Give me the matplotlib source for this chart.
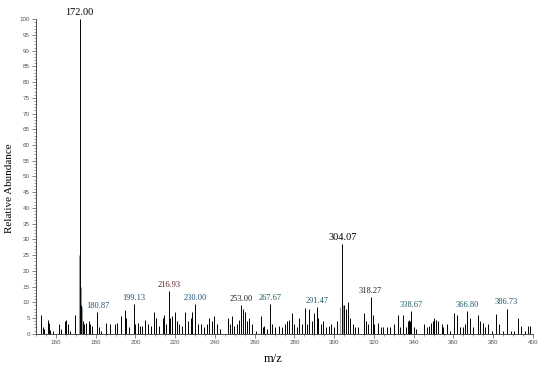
import numpy as np
import matplotlib
matplotlib.use('Agg')
import matplotlib.pyplot as plt
from matplotlib.ticker import MultipleLocator

# stick spectrum (m/z, relative abundance)
mz = [152.3, 153.6, 154.2, 155.8, 156.5, 157.0, 158.5, 161.7, 162.7, 164.5,
      165.3, 166.2, 167.0, 169.7, 172.0, 172.8, 173.5, 174.3, 175.0, 176.4,
      177.2, 178.3, 180.87, 181.6, 182.5, 185.2, 187.0, 189.5, 190.8, 192.5,
      194.7, 195.5, 197.0, 199.13, 200.0, 201.2, 202.2, 203.3, 205.0, 206.3,
      207.7, 209.3, 210.6, 211.9, 213.9, 214.6, 215.6, 216.93, 217.6, 218.6,
      219.8, 220.7, 221.7, 223.3, 225.0, 226.6, 227.8, 228.6, 230.0, 231.5,
      232.8, 234.5, 235.8, 237.2, 238.4, 239.7, 240.8, 242.5, 246.4, 247.6,
      248.8, 249.8, 251.0, 252.1, 253.0, 253.9, 255.0, 256.0, 257.2, 258.4,
      260.5, 263.0, 264.0, 264.8, 266.3, 267.67, 268.8, 270.3, 272.0, 273.6,
      275.3, 276.1, 277.4, 278.6, 279.8, 281.1, 282.5, 283.8, 285.3, 286.4,
      287.5, 288.7, 289.8, 291.47, 292.0, 293.2, 294.5, 295.9, 297.4, 298.5,
      299.9, 301.5, 304.07, 305.0, 306.0, 307.0, 307.9, 309.2, 310.4, 312.0,
      314.9, 316.2, 317.2, 318.27, 319.3, 320.2, 322.2, 323.4, 324.4, 326.4,
      328.1, 330.2, 331.9, 333.1, 334.4, 336.0, 336.9, 337.7, 338.2, 338.67,
      339.9, 341.2, 345.2, 346.5, 347.9, 348.7, 349.5, 350.2, 351.2, 352.3,
      354.0, 354.8, 356.8, 358.2, 360.3, 362.0, 363.3, 365.0, 366.0, 366.80,
      368.2, 369.9, 372.2, 373.4, 374.7, 375.9, 377.2, 379.2, 381.4, 383.1,
      384.8, 386.73, 388.7, 390.3, 392.3, 394.0, 396.0, 397.4, 398.5]
abund = [6, 2, 1.5, 4.5, 3.5, 1.2, 1, 3, 1.5, 4,
         4.5, 3, 1, 6, 100, 9, 4, 3, 3.5, 4,
         3, 2.5, 7, 2, 1, 3.5, 3, 3, 3.5, 5.5,
         7.5, 5, 2, 9.5, 3, 3.5, 2.5, 2.5, 4.5, 3,
         2.5, 7, 5, 2.5, 5, 6, 3, 13.5, 5, 5.5,
         7, 4, 3, 2.5, 7, 4, 5, 7, 9.5, 3,
         3, 2, 3, 5, 4, 5.5, 3, 1.5, 5, 3,
         5.5, 2.5, 3, 4.5, 9, 8, 7, 4, 5, 3,
         1, 5.5, 2, 2.5, 1.5, 9.3, 3, 2, 2.5, 2,
         3, 4, 4.5, 6.5, 3, 2, 5, 3, 8.2, 3,
         8, 4, 6.5, 8.5, 5, 3, 4, 2, 2.5, 3,
         2, 4, 28.5, 9, 8, 10, 5, 3, 2, 2,
         6.5, 4, 3, 11.7, 6, 3, 3.5, 2, 2, 2,
         2, 3, 6, 2, 6, 2, 4, 4.5, 4, 7.2,
         2, 1.5, 3, 2, 2.5, 3.5, 4, 5, 4.5, 4,
         3, 2, 3, 1, 6.7, 6, 2, 2, 3, 7.2,
         5, 2, 6, 4, 3.5, 2, 3, 1, 6.2, 3,
         1, 8, 1, 1, 5, 2.5, 1, 2.5, 2.5]

# lighter (grey) sticks next to the main peaks
grey_mz = [171.5, 172.4, 173.1, 302.9, 304.5]
grey_abund = [25, 15, 8.5, 8.5, 9]

# labelled peaks
label_mz = [172.00, 180.87, 199.13, 216.93, 230.00, 253.00, 267.67,
            291.47, 304.07, 318.27, 338.67, 366.80, 386.73]
label_text = ['172.00', '180.87', '199.13', '216.93', '230.00', '253.00', '267.67',
              '291.47', '304.07', '318.27', '338.67', '366.80', '386.73']
label_color = ['black', '#1d4f73', '#1d4f73', '#5a1f1f', '#1d4f73', '#222222', '#1d5a66',
               '#1d5a66', 'black', '#222222', '#1d5a66', '#1d5a66', '#1d5a66']
label_size = [7.5, 6, 6, 6, 6, 6, 6, 6, 7.5, 6, 6, 6, 6]

fig = plt.figure(figsize=(5.5, 3.73), dpi=100)
ax = fig.add_axes([0.0655, 0.1054, 0.9036, 0.843])

ax.vlines(grey_mz, 0, grey_abund, color='#999999', linewidth=0.8)
ax.vlines(mz, 0, abund, color='black', linewidth=0.7)

for m, t, c, s in zip(label_mz, label_text, label_color, label_size):
    h = abund[mz.index(m)] if m in mz else 0
    ax.annotate(t, xy=(m, h), xytext=(0, 1.5), textcoords='offset points',
                ha='center', va='bottom', fontsize=s, color=c,
                family='Liberation Serif', annotation_clip=False)

ax.set_xlim(150, 400)
ax.set_ylim(0, 100)
ax.xaxis.set_major_locator(MultipleLocator(20))
ax.xaxis.set_minor_locator(MultipleLocator(5))
ax.yaxis.set_major_locator(MultipleLocator(5))
ax.yaxis.set_minor_locator(MultipleLocator(1))

ax.spines['top'].set_visible(False)
ax.spines['right'].set_visible(False)
for sp in ['left', 'bottom']:
    ax.spines[sp].set_linewidth(0.6)
    ax.spines[sp].set_color('#333333')

ax.tick_params(which='major', length=3, width=0.5, labelsize=4.5,
               labelcolor='#555555', color='#555555', pad=1.5)
ax.tick_params(which='minor', length=1.5, width=0.4, color='#555555')
for lab in ax.get_xticklabels() + ax.get_yticklabels():
    lab.set_family('Liberation Sans')

ax.set_xlabel('m/z', family='Liberation Serif', fontsize=9)
ax.set_ylabel('Relative Abundance', family='Liberation Serif', fontsize=8)
ax.xaxis.set_label_coords(0.477, -0.063)
ax.yaxis.set_label_coords(-0.044, 0.464)

fig.savefig('out.png', dpi=100)
